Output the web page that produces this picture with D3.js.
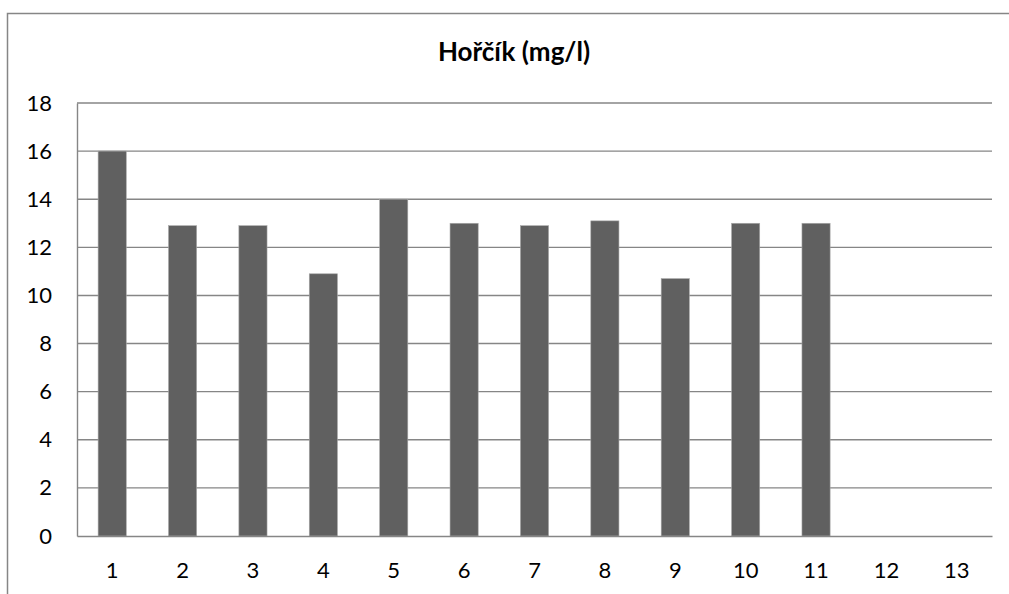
<!DOCTYPE html>
<html>
<head>
<meta charset="utf-8">
<script src="https://cdn.jsdelivr.net/npm/d3@7"></script>
<style>
  html, body { margin: 0; padding: 0; background: #fff; overflow: hidden; }
  svg { display: block; }
  text { font-family: Lato, "Open Sans", sans-serif; fill: #000; }
</style>
</head>
<body>
<svg id="chart" width="1009" height="594"></svg>
<script>
const title = "Hořčík (mg/l)";
const categories = ["1","2","3","4","5","6","7","8","9","10","11","12","13"];
const values = [16, 12.9, 12.9, 10.9, 14, 13, 12.9, 13.1, 10.7, 13, 13, null, null];
const yTicks = [0, 2, 4, 6, 8, 10, 12, 14, 16, 18];

const svg = d3.select("#chart");
const plot = { left: 77, right: 992, top: 103, bottom: 536 };

// outer chart frame (only top and left edges are visible in the picture)
svg.append("path")
  .attr("d", "M7.5,594 L7.5,13.5 L1009,13.5")
  .attr("fill", "none").attr("stroke", "#868686").attr("stroke-width", 1.5);

const x = d3.scaleBand().domain(categories).range([plot.left, plot.right]).paddingInner(0.6).paddingOuter(0.3);
const y = d3.scaleLinear().domain([0, 18]).range([plot.bottom, plot.top]);

// gridlines
svg.append("g").selectAll("line").data(yTicks.filter(d => d > 0)).join("line")
  .attr("x1", plot.left).attr("x2", plot.right)
  .attr("y1", d => y(d)).attr("y2", d => y(d))
  .attr("stroke", "#868686").attr("stroke-width", 1.4);

// bars
svg.append("g").selectAll("rect").data(categories.map((c, i) => ({c, v: values[i]})).filter(d => d.v != null)).join("rect")
  .attr("x", d => x(d.c)).attr("width", x.bandwidth())
  .attr("y", d => y(d.v)).attr("height", d => y(0) - y(d.v))
  .attr("fill", "#606060").attr("stroke", "#a8a8a8").attr("stroke-width", 0.6);

// y axis
const yAxis = d3.axisLeft(y).tickValues(yTicks).tickSize(0).tickPadding(25);
const gy = svg.append("g").attr("transform", `translate(${plot.left},0)`).call(yAxis);
gy.select(".domain").attr("stroke", "#868686").attr("stroke-width", 1.4);
gy.selectAll("text").attr("font-size", 22).attr("font-family", "Lato, sans-serif");

// x axis
const xAxis = d3.axisBottom(x).tickSize(0).tickPadding(26);
const gx = svg.append("g").attr("transform", `translate(0,${plot.bottom})`).call(xAxis);
gx.select(".domain").attr("stroke", "#868686").attr("stroke-width", 1.4);
gx.selectAll("text").attr("font-size", 22).attr("font-family", "Lato, sans-serif");

// title
svg.append("text").attr("x", 514).attr("y", 61)
  .attr("text-anchor", "middle").attr("font-size", 26).attr("font-weight", "bold")
  .text(title);
</script>
</body>
</html>
